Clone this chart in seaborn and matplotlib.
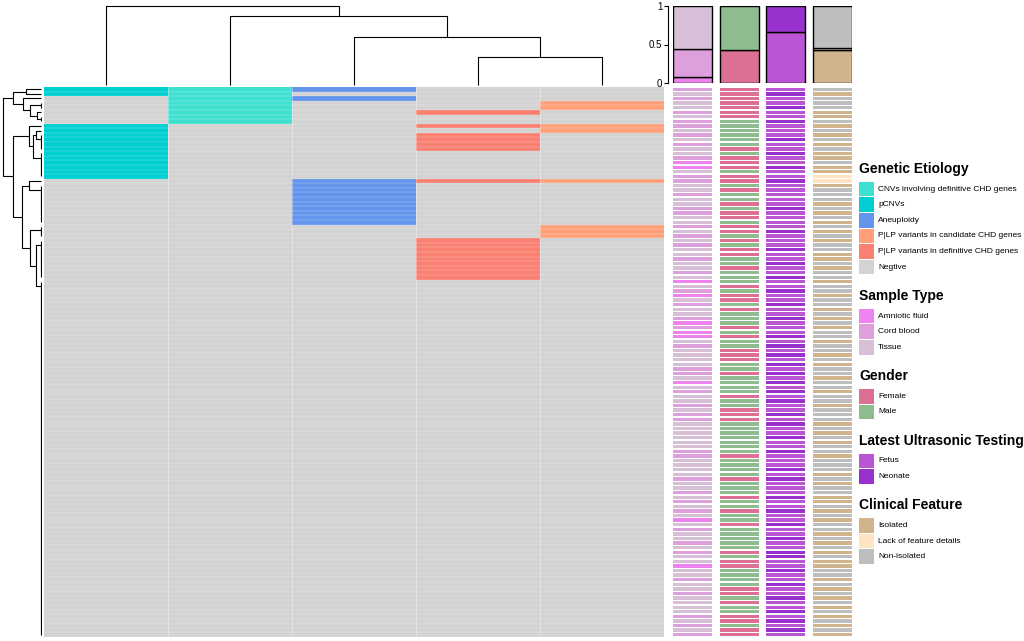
import numpy as np
import pandas as pd
import matplotlib
matplotlib.use("Agg")
import matplotlib.pyplot as plt
from matplotlib.colors import ListedColormap
from matplotlib.patches import Rectangle
import seaborn as sns

sns.set_style("white")
plt.rcParams["font.family"] = ["Liberation Sans", "DejaVu Sans"]
plt.rcParams["text.color"] = "black"
plt.rcParams["ytick.color"] = "black"
plt.rcParams["ytick.labelcolor"] = "black"

N_SAMPLES = 120

# ---------------- Genetic etiology (heatmap columns, left -> right) ----------------
etiology_columns = ["pCNVs", "CNVs involving definitive CHD genes", "Aneuploidy",
                    "P|LP variants in definitive CHD genes",
                    "P|LP variants in candidate CHD genes"]
pcnv_rows = [0, 1] + list(range(8, 20))
cnv_def_rows = list(range(0, 8))
aneuploidy_rows = [0, 2] + list(range(20, 30))
plp_def_rows = [5, 8, 10, 11, 12, 13, 20] + list(range(33, 42))
plp_cand_rows = [3, 4, 8, 9, 20, 30, 31, 32]
etiology_hits = [pcnv_rows, cnv_def_rows, aneuploidy_rows, plp_def_rows, plp_cand_rows]

etiology_legend = ["CNVs involving definitive CHD genes", "pCNVs", "Aneuploidy",
                   "P|LP variants in candidate CHD genes",
                   "P|LP variants in definitive CHD genes", "Negtive"]
etiology_colors = {"CNVs involving definitive CHD genes": "#40E0D0", "pCNVs": "#00CED1",
                   "Aneuploidy": "#6495ED", "P|LP variants in candidate CHD genes": "#FFA07A",
                   "P|LP variants in definitive CHD genes": "#FA8072", "Negtive": "#D3D3D3"}

# ---------------- Annotation columns (one code per sample row) ----------------
sample_codes = ("CTCTTCTCCT" "CTCTTCAATC" "CTTCTTCCTT" "CTCTCTTCTT" "CTATCATCTT" "CACAATCTTT"
                "TCCTATCTTC" "TCCTTTTTTC" "CTTTTCTTCT" "CTCTATCTTC" "TCTTATTCTT" "CTTTTCTCTC")
gender_codes = ("FFFFFFFMMM" "MMMFMFFFMF" "FMFMMFMFFM" "FFMFMFFMMF" "MMMFMFFMFM" "MMFMFMMFFF"
                "MMFMMMMFMM" "FFFMMMMMMM" "FMMMMFMMMF" "MMFMMFMMMM" "MFMFFMMMMF" "FMFMMFFMFF")
ultra_codes = ("fnffnffnff" "fnffnffnff" "nfffffnfff" "fnfffnffnf" "fnffnffnff" "nfffnfnfnf"
               "nfnfnfnfnf" "fnfnffnffn" "fffnfnfffn" "ffnffnffnf" "fnnffnffnf" "fnffnfnfnf")
clinical_codes = ("NINNNIININ" "ININIINIIL" "LINNNININI" "NININNIINI" "NNINNINNIN" "ININNINNIN"
                  "INNINNINNI" "NNNINININN" "INNNININNI" "INININNINI" "NINIINNINI" "NININININI")

sample_types = ["Amniotic fluid", "Cord blood", "Tissue"]
sample_map = {"A": "Amniotic fluid", "C": "Cord blood", "T": "Tissue"}
sample_colors = ["#EE82EE", "#DDA0DD", "#D8BFD8"]

genders = ["Female", "Male"]
gender_map = {"F": "Female", "M": "Male"}
gender_colors = ["#DB7093", "#8FBC8F"]

ultra_types = ["Fetus", "Neonate"]
ultra_map = {"f": "Fetus", "n": "Neonate"}
ultra_colors = ["#BA55D3", "#9932CC"]

clinical_types = ["Isolated", "Lack of feature details", "Non-isolated"]
clinical_map = {"I": "Isolated", "L": "Lack of feature details", "N": "Non-isolated"}
clinical_colors = ["#D2B48C", "#FFE4C4", "#BEBEBE"]

annotations = [
    ("Sample Type", [sample_map[c] for c in sample_codes], sample_types, sample_colors),
    ("Gender", [gender_map[c] for c in gender_codes], genders, gender_colors),
    ("Latest Ultrasonic Testing", [ultra_map[c] for c in ultra_codes], ultra_types, ultra_colors),
    ("Clinical Feature", [clinical_map[c] for c in clinical_codes], clinical_types, clinical_colors),
]

# ---------------- Dendrograms (merge heights) ----------------
def chain(a, b):
    node = b
    for r in range(b - 1, a - 1, -1):
        node = (0.0, r, node)
    return node

top_tree = (79, 0, (69, 1, (48, 2, (28, 3, 4))))

left_tree = (38.3,
             (28.5, (15, 0, 1),
                    (18.3, 2, (11.3, chain(3, 4), (4.3, 5, chain(6, 7))))),
             (28.0,
              (12, 8, (8.3, (5.3, 9, chain(10, 13)), chain(14, 19))),
              (19.3,
               (12, 20, chain(21, 29)),
               (11, chain(30, 32), (5, chain(33, 41), chain(42, 119))))))


def draw_tree(ax, node, orient):
    if isinstance(node, int):
        return node + 0.5, 0.0
    h, l, r = node
    pl, hl = draw_tree(ax, l, orient)
    pr, hr = draw_tree(ax, r, orient)
    if orient == "left":
        ax.plot([hl, h, h, hr], [pl, pl, pr, pr], color="black", lw=0.8,
                solid_capstyle="butt")
    else:
        ax.plot([pl, pl, pr, pr], [hl, h, h, hr], color="black", lw=0.8,
                solid_capstyle="butt")
    return (pl + pr) / 2, h


# ---------------- Figure ----------------
W, H = 1024, 641
fig = plt.figure(figsize=(W / 100, H / 100), dpi=100)


def px_axes(x0, y0, x1, y1):
    return fig.add_axes([x0 / W, 1 - y1 / H, (x1 - x0) / W, (y1 - y0) / H])


# main heatmap
mat = np.zeros((N_SAMPLES, len(etiology_columns)))
for k, rows in enumerate(etiology_hits):
    mat[rows, k] = k + 1
df = pd.DataFrame(mat, columns=etiology_columns)
hm_cmap = ListedColormap([etiology_colors["Negtive"]] + [etiology_colors[c] for c in etiology_columns])
ax_hm = px_axes(44, 87, 664, 637)
sns.heatmap(df, ax=ax_hm, cmap=hm_cmap, vmin=-0.5, vmax=5.5, cbar=False,
            linewidths=0, xticklabels=False, yticklabels=False)
ax_hm.hlines(np.arange(1, N_SAMPLES), 0, len(etiology_columns), color="white",
             lw=0.35, alpha=0.45)
ax_hm.vlines(np.arange(1, len(etiology_columns)), 0, N_SAMPLES, color="white",
             lw=0.5, alpha=0.45)

# left dendrogram
ax_ld = px_axes(0, 87, 42, 637)
draw_tree(ax_ld, left_tree, "left")
ax_ld.set_xlim(41, -1)
ax_ld.set_ylim(N_SAMPLES, 0)
ax_ld.axis("off")

# top dendrogram
ax_td = px_axes(44, 0, 664, 87)
draw_tree(ax_td, top_tree, "top")
ax_td.set_xlim(0, 5)
ax_td.set_ylim(-2, 85)
ax_td.axis("off")

# annotation columns (one stripe per sample, white gap between stripes)
col_x = [673, 720, 766, 813]
for (name, labels, cats, cols), x0 in zip(annotations, col_x):
    ax = px_axes(x0, 87, x0 + 39, 637)
    cmap = dict(zip(cats, cols))
    ax.bar(np.zeros(N_SAMPLES), 0.72, bottom=np.arange(N_SAMPLES) + 0.14, width=1.0,
           color=[cmap[v] for v in labels], edgecolor="none", linewidth=0)
    ax.set_xlim(-0.5, 0.5)
    ax.set_ylim(N_SAMPLES, 0)
    ax.axis("off")

# stacked proportion bars
ax_bar = px_axes(673, 6, 852, 83)
for k, (name, labels, cats, cols) in enumerate(annotations):
    props = pd.Series(labels).value_counts(normalize=True).reindex(cats).fillna(0)
    bottom = 0.0
    for cat, colr in zip(cats, cols):
        ax_bar.bar(k, props[cat], bottom=bottom, width=0.83, color=colr,
                   edgecolor="black", linewidth=1.0)
        bottom += props[cat]
ax_bar.set_xlim(-0.415, 3.415)
ax_bar.set_ylim(0, 1)
for s in ["top", "right", "bottom"]:
    ax_bar.spines[s].set_visible(False)
ax_bar.spines["left"].set_position(("outward", 3.6))
ax_bar.spines["left"].set_color("black")
ax_bar.spines["left"].set_linewidth(0.8)
ax_bar.set_xticks([])
ax_bar.set_yticks([0, 0.5, 1])
ax_bar.set_yticklabels(["0", "0.5", "1"])
ax_bar.tick_params(axis="y", length=3, width=0.8, labelsize=7, pad=1, left=True,
                   colors="black")

# legends
ax_lg = px_axes(855, 150, 1024, 575)
ax_lg.set_xlim(855, 1024)
ax_lg.set_ylim(575, 150)
ax_lg.axis("off")
legend_groups = [("Genetic Etiology", etiology_legend, [etiology_colors[c] for c in etiology_legend])] + \
                [(name, cats, cols) for name, _, cats, cols in annotations]
y = 169
for title, cats, cols in legend_groups:
    ax_lg.text(859, y, title, fontsize=10, fontweight="bold", va="center", ha="left",
               color="black")
    for k, (cat, colr) in enumerate(zip(cats, cols)):
        yc = y + 20 + 15.6 * k
        ax_lg.add_patch(Rectangle((859, yc - 7.3), 15, 14.6, facecolor=colr, edgecolor="none"))
        ax_lg.text(878, yc, cat, fontsize=6, va="center", ha="left", color="black")
    y = y + 20 + 15.6 * (len(cats) - 1) + 29

fig.savefig("out.png", dpi=100)
